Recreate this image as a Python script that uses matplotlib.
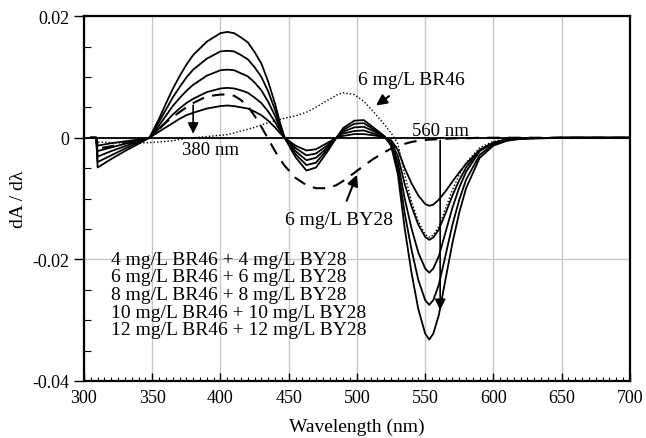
# derivative spectra of BR46 / BY28 mixtures
import matplotlib.pyplot as plt
from matplotlib.ticker import MultipleLocator

plt.rcParams['font.family'] = ['Liberation Serif', 'DejaVu Serif']

wl = [305, 309, 310, 320, 330, 340, 348,
      355, 360, 365, 370, 375, 380,
      390, 400, 405, 410, 415, 420, 425, 430, 435, 440, 443, 447,
      455, 463, 470, 478, 485,
      490, 498, 505, 512, 520,
      525, 530, 535, 540, 545, 550, 553, 556, 560,
      565, 570, 575, 580, 590, 600, 610, 620, 650, 700]

mix_labels = ["4 mg/L BR46 + 4 mg/L BY28",
              "6 mg/L BR46 + 6 mg/L BY28",
              "8 mg/L BR46 + 8 mg/L BY28",
              "10 mg/L BR46 + 10 mg/L BY28",
              "12 mg/L BR46 + 12 mg/L BY28"]

mix_4 = [0, 0, -0.0013, -0.0009, -0.0006, -0.0003, 0,
         0.0010, 0.0017, 0.0024, 0.0031, 0.0037, 0.0041,
         0.0048, 0.0052, 0.0053, 0.0052, 0.0050, 0.0048, 0.0043, 0.0037, 0.0028, 0.0017, 0.0009, 0,
         -0.0013, -0.0021, -0.0019, -0.0009, 0,
         0.0003, 0.0006, 0.0006, 0.0004, 0.0001,
         -0.0004, -0.0020, -0.0050, -0.0075, -0.0095, -0.0109, -0.0112, -0.0110, -0.0102,
         -0.0088, -0.0072, -0.0057, -0.0043, -0.0020, -0.0008, -0.0003, -0.0001, 0, 0]
mix_6 = [0, 0, -0.0022, -0.0016, -0.0010, -0.0004, 0,
         0.0015, 0.0026, 0.0038, 0.0048, 0.0057, 0.0064,
         0.0075, 0.0081, 0.0082, 0.0081, 0.0078, 0.0074, 0.0066, 0.0057, 0.0043, 0.0026, 0.0014, 0,
         -0.0017, -0.0029, -0.0026, -0.0013, 0,
         0.0007, 0.0011, 0.0012, 0.0007, 0.0001,
         -0.0007, -0.0030, -0.0076, -0.0113, -0.0143, -0.0163, -0.0168, -0.0164, -0.0151,
         -0.0124, -0.0095, -0.0070, -0.0049, -0.0020, -0.0008, -0.0003, -0.0001, 0, 0]
mix_8 = [0, 0, -0.0031, -0.0022, -0.0014, -0.0006, 0,
         0.0020, 0.0036, 0.0052, 0.0065, 0.0077, 0.0087,
         0.0102, 0.0111, 0.0112, 0.0111, 0.0106, 0.0101, 0.0091, 0.0078, 0.0059, 0.0036, 0.0019, 0,
         -0.0022, -0.0037, -0.0033, -0.0017, 0,
         0.0010, 0.0017, 0.0018, 0.0011, 0.0002,
         -0.0009, -0.0040, -0.0100, -0.0149, -0.0189, -0.0215, -0.0222, -0.0215, -0.0195,
         -0.0155, -0.0115, -0.0082, -0.0056, -0.0022, -0.0009, -0.0003, -0.0001, 0, 0]
mix_10 = [0, 0, -0.0040, -0.0029, -0.0018, -0.0008, 0,
          0.0026, 0.0046, 0.0066, 0.0083, 0.0099, 0.0112,
          0.0130, 0.0142, 0.0143, 0.0142, 0.0136, 0.0129, 0.0116, 0.0100, 0.0076, 0.0046, 0.0024, 0,
          -0.0027, -0.0045, -0.0041, -0.0020, 0,
          0.0013, 0.0023, 0.0024, 0.0014, 0.0002,
          -0.0011, -0.0050, -0.0124, -0.0184, -0.0234, -0.0267, -0.0275, -0.0267, -0.0242,
          -0.0193, -0.0143, -0.0102, -0.0069, -0.0028, -0.0011, -0.0004, -0.0001, 0, 0]
mix_12 = [0, 0, -0.0049, -0.0035, -0.0022, -0.0010, 0,
          0.0031, 0.0056, 0.0080, 0.0101, 0.0120, 0.0136,
          0.0158, 0.0172, 0.0174, 0.0172, 0.0165, 0.0157, 0.0141, 0.0122, 0.0092, 0.0056, 0.0030, 0,
          -0.0032, -0.0054, -0.0049, -0.0024, 0,
          0.0016, 0.0028, 0.0029, 0.0017, 0.0003,
          -0.0013, -0.0060, -0.0149, -0.0222, -0.0282, -0.0322, -0.0332, -0.0322, -0.0292,
          -0.0232, -0.0173, -0.0123, -0.0083, -0.0033, -0.0013, -0.0005, -0.0002, 0, 0]

br46_6 = [0, 0, -0.0007, -0.0008, -0.0009, -0.0009, -0.0008,
          -0.0007, -0.0006, -0.0005, -0.0003, -0.0001, 0.0000,
          0.0002, 0.0004, 0.0005, 0.0008, 0.0011, 0.0014, 0.0017, 0.0021, 0.0025, 0.0028, 0.0030, 0.0032,
          0.0036, 0.0042, 0.0050, 0.0061, 0.0070,
          0.0074, 0.0071, 0.0060, 0.0043, 0.0022,
          0.0008, -0.0010, -0.0060, -0.0105, -0.0138, -0.0159, -0.0164, -0.0160, -0.0146,
          -0.0116, -0.0086, -0.0061, -0.0041, -0.0016, -0.0006, -0.0002, -0.0001, 0, 0]
by28_6 = [0, 0, -0.0018, -0.0014, -0.0009, -0.0004, 0,
          0.0014, 0.0025, 0.0034, 0.0042, 0.0050, 0.0057,
          0.0068, 0.0071, 0.0071, 0.0069, 0.0062, 0.0052, 0.0036, 0.0018, -0.0002, -0.0022, -0.0033, -0.0046,
          -0.0066, -0.0078, -0.0083, -0.0083, -0.0078,
          -0.0071, -0.0058, -0.0046, -0.0035, -0.0024,
          -0.0018, -0.0013, -0.0010, -0.0007, -0.0005, -0.0004, -0.0003, -0.0003, -0.0002,
          -0.0002, -0.0001, -0.0001, -0.0001, 0, 0, 0, 0, 0, 0]

mixtures = [mix_4, mix_6, mix_8, mix_10, mix_12]

fig = plt.figure(figsize=(6.46, 4.39), dpi=100)
ax = fig.add_axes([0.130, 0.130, 0.845, 0.831])

ax.grid(True, color='#c8c8c8', lw=1.0, zorder=0)
ax.set_axisbelow(True)
ax.axhline(0, color='black', lw=1.3, zorder=2)

for ys in mixtures:
    ax.plot(wl, ys, color='black', lw=1.3, zorder=3)
ax.plot(wl, br46_6, color='black', lw=1.0, ls=(0, (1, 1.5)), zorder=3)
ax.plot(wl, by28_6, color='black', lw=1.5, ls=(0, (6, 4)), zorder=3)

ax.set_xlim(300, 700)
ax.set_ylim(-0.04, 0.02)
ax.xaxis.set_major_locator(MultipleLocator(50))
ax.xaxis.set_minor_locator(MultipleLocator(5))
ax.yaxis.set_major_locator(MultipleLocator(0.02))
ax.yaxis.set_minor_locator(MultipleLocator(0.005))
ax.tick_params(axis='x', which='major', direction='in', length=6, width=1, labelsize=13, pad=6)
ax.tick_params(axis='x', which='minor', direction='in', length=3, width=0.8)
ax.tick_params(axis='y', which='major', direction='out', length=7, width=1, labelsize=13)
ax.tick_params(axis='y', which='minor', direction='in', length=5, width=0.8)
ax.set_yticks([0.02, 0, -0.02, -0.04])
ax.set_yticklabels(['0.02', '0', '-0.02', '-0.04'])
for s in ax.spines.values():
    s.set_linewidth(1.6)

ax.set_xlabel('Wavelength (nm)', fontsize=14, labelpad=8)
ax.set_ylabel('dA / dλ', fontsize=14, labelpad=4)

# arrows and notes
ax.annotate('', xy=(380, 0.0002), xytext=(380, 0.0058),
            arrowprops=dict(arrowstyle='-|>', color='black', lw=1.2, mutation_scale=16))
ax.text(393, -0.0005, '380 nm', fontsize=13.5, ha='center', va='top')
ax.annotate('', xy=(561, -0.0288), xytext=(561, 0),
            arrowprops=dict(arrowstyle='-|>', color='black', lw=1.2, mutation_scale=16))
ax.text(561, -0.0002, '560 nm', fontsize=13.5, ha='center', va='bottom')
ax.annotate('6 mg/L BR46', xy=(514, 0.0053), xytext=(540, 0.0095),
            fontsize=14, ha='center', va='center',
            arrowprops=dict(arrowstyle='-|>', color='black', lw=1.5, mutation_scale=16,
                            shrinkA=6, shrinkB=0))
ax.annotate('6 mg/L BY28', xy=(500, -0.0061), xytext=(487, -0.0135),
            fontsize=14, ha='center', va='center',
            arrowprops=dict(arrowstyle='-|>', color='black', lw=1.5, mutation_scale=16,
                            shrinkA=6, shrinkB=0))

for i, lab in enumerate(mix_labels):
    ax.text(320, -0.0200 - i * 0.0029, lab, fontsize=14, ha='left', va='center')

fig.savefig('out.png', dpi=100)
